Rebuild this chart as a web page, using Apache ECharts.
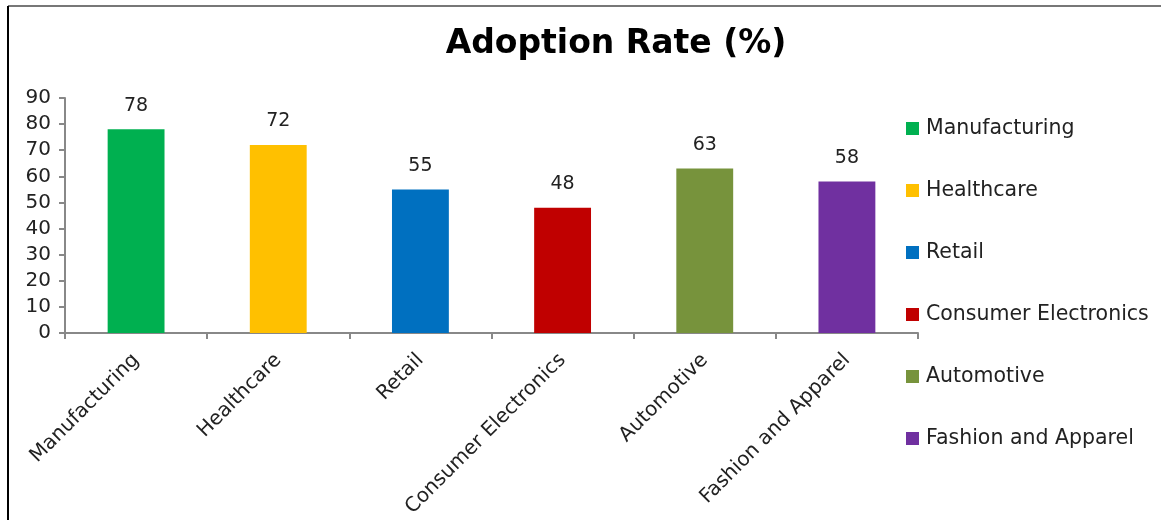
<!DOCTYPE html>
<html>
<head>
<meta charset="utf-8">
<script src="https://cdn.jsdelivr.net/npm/echarts@6/dist/echarts.min.js"></script>
<style>html,body{margin:0;padding:0;background:#fff}#c{width:1161px;height:520px}</style>
</head>
<body>
<div id="c"></div>
<script>
const categories = ["Manufacturing", "Healthcare", "Retail", "Consumer Electronics", "Automotive", "Fashion and Apparel"];
const values = [78, 72, 55, 48, 63, 58];
const colors = ["#00B050", "#FFC000", "#0070C0", "#C00000", "#77933C", "#7030A0"];
const yTicks = [0, 10, 20, 30, 40, 50, 60, 70, 80, 90];

const FONT = "'DejaVu Sans', sans-serif";
const chart = echarts.init(document.getElementById('c'), null, {renderer: 'canvas'});

const series = categories.map((name, i) => ({
  name: name,
  type: 'bar',
  stack: 'all',
  barWidth: '40%',
  data: categories.map((c, j) => j === i ? values[i] : null),
  itemStyle: {color: colors[i]},
  label: {
    show: true, position: 'top', distance: 14,
    color: '#222', fontSize: 19, fontFamily: FONT
  }
}));

chart.setOption({
  animation: false,
  backgroundColor: '#fff',
  title: {
    text: 'Adoption Rate (%)',
    left: 611, top: 23, textAlign: 'center',
    textStyle: {fontSize: 33, fontWeight: 'bold', color: '#000', fontFamily: FONT}
  },
  legend: {
    orient: 'vertical',
    left: 901, top: 113,
    itemWidth: 13, itemHeight: 13, itemGap: 41,
    icon: 'rect',
    textStyle: {fontSize: 20.5, color: '#222', fontFamily: FONT, padding: [0, 0, 0, 2]},
    data: categories
  },
  grid: {left: 65, right: 243, top: 98, bottom: 187, containLabel: false},
  xAxis: {
    type: 'category',
    data: categories,
    axisLine: {lineStyle: {color: '#888', width: 2}},
    axisTick: {show: true, alignWithLabel: false, length: 6, lineStyle: {color: '#888', width: 2}},
    axisLabel: {rotate: 45, interval: 0, fontSize: 20, color: '#222', fontFamily: FONT, margin: 24}
  },
  yAxis: {
    type: 'value',
    min: 0, max: 90, interval: 10,
    splitLine: {show: false},
    axisLine: {show: true, lineStyle: {color: '#888', width: 2}},
    axisTick: {show: true, inside: false, length: 6, lineStyle: {color: '#888', width: 2}},
    axisLabel: {fontSize: 20, color: '#222', fontFamily: FONT, margin: 14,
      formatter: v => yTicks.includes(v) ? String(v) : ''}
  },
  graphic: [
    {type: 'line', shape: {x1: 8, y1: 6, x2: 1161, y2: 6}, style: {stroke: '#777', lineWidth: 2}},
    {type: 'line', shape: {x1: 8, y1: 6, x2: 8, y2: 520}, style: {stroke: '#000', lineWidth: 2}}
  ],
  series: series
});
</script>
</body>
</html>
